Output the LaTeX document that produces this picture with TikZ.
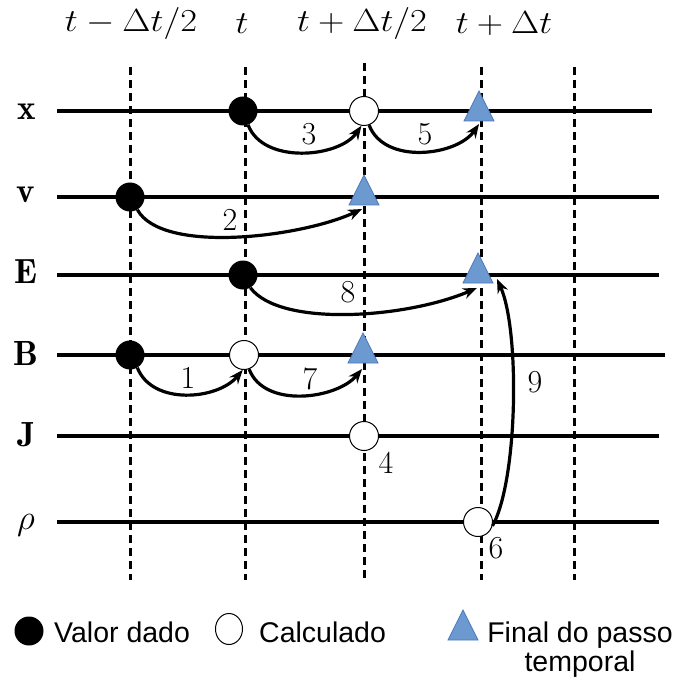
\RequirePackage{fix-cm}
\documentclass[tikz,border=0pt]{standalone}
\usepackage{fontspec}
\newfontfamily\legfont{Liberation Sans}
\usetikzlibrary{arrows.meta,shapes.geometric}
\definecolor{tfill}{RGB}{108,153,208}
\definecolor{tedge}{RGB}{75,120,185}
\begin{document}
\begin{tikzpicture}[x=1pt,y=-1pt,
  toplab/.style={font=\fontsize{32}{32}\selectfont, inner sep=0},
  rowlab/.style={font=\fontsize{35}{35}\selectfont, inner sep=0, anchor=base},
  numlab/.style={font=\fontsize{32}{32}\selectfont, inner sep=0},
  leglab/.style={font=\legfont\fontsize{28.5}{28.5}\selectfont, inner sep=0},
  axisline/.style={line width=4.6pt},
  gridline/.style={line width=3pt, dash pattern=on 8pt off 5pt},
  fdot/.style={circle, fill=black, minimum size=29pt, inner sep=0},
  odot/.style={circle, draw=black, line width=1pt, fill=white, minimum size=29pt, inner sep=0},
  arr/.style={line width=3.2pt, -{Stealth[length=14pt,width=11pt]}},
  trist/.style={fill=tfill, draw=tedge, line width=0.8pt},
  tri/.pic={\path[trist] (0,-22) -- (15,8) -- (-15,8) -- cycle;},
  trix/.pic={\path[trist] (0,-20) -- (15,10) -- (-15,10) -- cycle;},
]
\useasboundingbox (0,0) rectangle (678,684);

% time labels
\node[toplab] (tl1) at (131,24) {\scalebox{1.14}[1]{$t-\Delta t/2$}};
\node[toplab] (tl2) at (242,24) {\scalebox{1.14}[1]{$t$}};
\node[toplab] (tl3) at (362,24) {\scalebox{1.14}[1]{$t+\Delta t/2$}};
\node[toplab] (tl4) at (504,24) {\scalebox{1.14}[1]{$t+\Delta t$}};

% dashed time lines
\draw[gridline] (130,67) -- (130,580);
\draw[gridline] (245,67) -- (245,580);
\draw[gridline] (364,63) -- (364,580);
\draw[gridline] (481,67) -- (481,580);
\draw[gridline] (574,67) -- (574,580);

% rows
\draw[axisline] (57,111) -- (652,111);
\draw[axisline] (57,197) -- (659,197);
\draw[axisline] (57,275) -- (659,275);
\draw[axisline] (57,355) -- (665,355);
\draw[axisline] (57,436) -- (659,436);
\draw[axisline] (57,522) -- (659,522);

\node[rowlab] (lx) at (27,120) {$\mathbf{x}$};
\node[rowlab] (lv) at (26,203) {$\mathbf{v}$};
\node[rowlab] (lE) at (26,283) {$\mathbf{E}$};
\node[rowlab] (lB) at (26,365) {$\mathbf{B}$};
\node[rowlab] (lJ) at (27,446) {$\mathbf{J}$};
\node[rowlab] (lr) at (26,529) {$\rho$};

% markers
\node[fdot] (xt) at (243,111) {};
\node[odot] (xh) at (364,111) {};
\pic at (479,111) {trix};
\coordinate (xfb) at (479,124);

\node[fdot] (vm) at (130,197) {};
\pic at (364,197) {tri};
\coordinate (vhb) at (362,209);

\node[fdot] (et) at (243,275) {};
\pic at (478,275) {tri};
\coordinate (efb) at (477,288);
\coordinate (efr) at (497,279);

\node[fdot] (bm) at (130,355) {};
\node[odot] (bt) at (244,355) {};
\pic at (363,355) {tri};
\coordinate (bhb) at (362,369);

\node[odot] (jh) at (364,436) {};
\node[odot] (rf) at (478,522) {};

% arrows
\draw[arr] (xt.-70) .. controls +(15,40) and +(-22,32) .. (xh.-100);
\draw[arr] (xh.-70) .. controls +(15,40) and +(-22,32) .. (xfb);
\draw[arr] (vm.-60) .. controls +(25,45) and +(-60,28) .. (vhb);
\draw[arr] (et.-60) .. controls +(30,40) and +(-70,30) .. (efb);
\draw[arr] (bm.-60) .. controls +(15,38) and +(-25,30) .. (bt.-95);
\draw[arr] (bt.-70) .. controls +(15,40) and +(-25,30) .. (bhb);
\draw[arr] (rf.-15) .. controls (518,480) and (520,330) .. (efr);

% step numbers
\node[numlab] (n1) at (188,378) {1};
\node[numlab] (n2) at (230,220) {2};
\node[numlab] (n3) at (309,134) {3};
\node[numlab] (n4) at (386,463) {4};
\node[numlab] (n5) at (425,134) {5};
\node[numlab] (n6) at (496,548) {6};
\node[numlab] (n7) at (310,379) {7};
\node[numlab] (n8) at (348,292) {8};
\node[numlab] (n9) at (535,382) {9};

% legend
\node[fdot] (lg1) at (29,631) {};
\node[leglab, anchor=base west] (lt1) at (54,642) {Valor dado};
\node[odot, ellipse, minimum width=27pt, minimum height=31pt] (lg2) at (229,629) {};
\node[leglab, anchor=base west] (lt2) at (259,642) {Calculado};
\pic at (463,630) {trix};
\node[leglab, align=center, anchor=north] (lt3) at (580,622) {Final do passo\\[0pt]temporal};
\end{tikzpicture}
\end{document}
